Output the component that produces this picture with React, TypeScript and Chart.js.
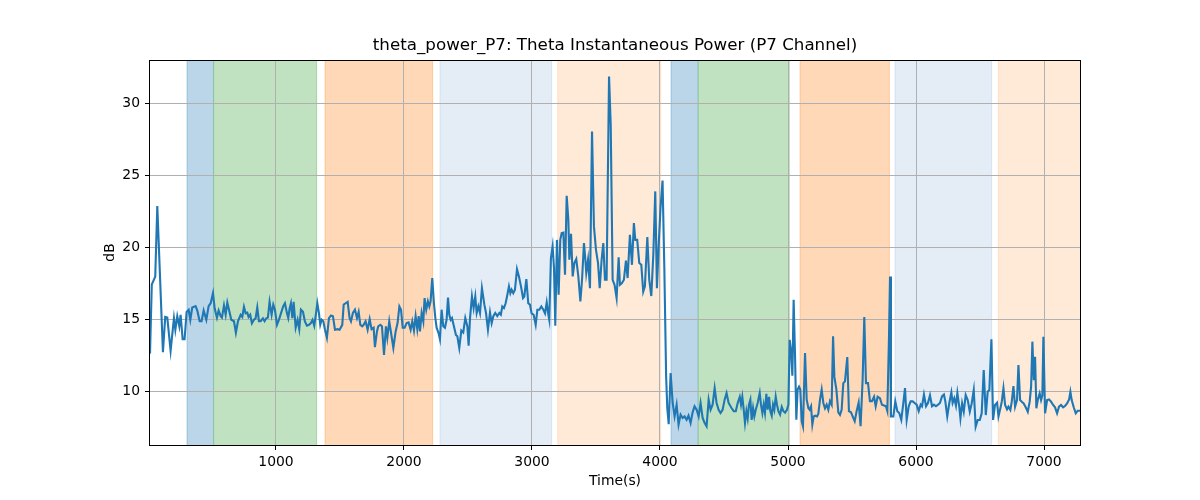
import React, { useEffect, useRef } from "react";
import { Chart, registerables } from "chart.js";

Chart.register(...registerables);

const TITLE = "theta_power_P7: Theta Instantaneous Power (P7 Channel)";
const X_LABEL = "Time(s)";
const Y_LABEL = "dB";

const X_TICKS = [1000, 2000, 3000, 4000, 5000, 6000, 7000];
const Y_TICKS = [10, 15, 20, 25, 30];
const X_RANGE = [16, 7281];
const Y_RANGE = [6.25, 33];

// phase spans (seconds) and their kind index
const SPAN_START = [305, 513, 1383, 2281, 3201, 4086, 4299, 5094, 5836, 6643];
const SPAN_END = [513, 1318, 2224, 3154, 4005, 4299, 5010, 5792, 6591, 7300];
const SPAN_KIND = [0, 1, 2, 3, 4, 0, 1, 2, 3, 4];

const TIME_S = [
  16, 30, 57, 73, 117, 135, 151, 177, 203, 214,
  229, 245, 255, 271, 286, 302, 318, 331, 346, 372,
  385, 404, 419, 435, 456, 474, 490, 508, 521, 539,
  552, 568, 578, 594, 607, 620, 633, 651, 672, 687,
  703, 724, 737, 750, 763, 776, 786, 799, 812, 828,
  841, 854, 867, 880, 898, 911, 924, 937, 950, 966,
  979, 992, 1008, 1023, 1039, 1057, 1070, 1086, 1096, 1107,
  1117, 1128, 1138, 1154, 1169, 1182, 1195, 1211, 1226, 1242,
  1258, 1273, 1286, 1299, 1310, 1323, 1336, 1346, 1357, 1370,
  1383, 1398, 1414, 1430, 1445, 1461, 1482, 1497, 1518, 1529,
  1544, 1560, 1575, 1586, 1601, 1617, 1633, 1646, 1659, 1674,
  1685, 1700, 1716, 1732, 1747, 1763, 1773, 1789, 1799, 1815,
  1828, 1844, 1859, 1870, 1885, 1898, 1917, 1935, 1950, 1964,
  1977, 1990, 2005, 2021, 2036, 2052, 2065, 2078, 2091, 2104,
  2115, 2125, 2138, 2151, 2161, 2174, 2187, 2198, 2208, 2221,
  2234, 2245, 2255, 2271, 2281, 2294, 2307, 2320, 2333, 2344,
  2354, 2365, 2375, 2390, 2406, 2417, 2432, 2448, 2463, 2479,
  2495, 2505, 2516, 2531, 2544, 2557, 2568, 2581, 2594, 2609,
  2628, 2641, 2656, 2672, 2685, 2698, 2713, 2729, 2745, 2757,
  2768, 2781, 2794, 2805, 2820, 2831, 2841, 2854, 2867, 2883,
  2898, 2914, 2930, 2940, 2956, 2971, 2984, 2997, 3013, 3029,
  3042, 3057, 3073, 3089, 3102, 3115, 3128, 3135, 3148, 3161,
  3172, 3182, 3195, 3208, 3221, 3232, 3245, 3258, 3271, 3284,
  3292, 3305, 3318, 3331, 3346, 3362, 3378, 3391, 3406, 3417,
  3424, 3438, 3453, 3469, 3484, 3500, 3516, 3529, 3544, 3557,
  3570, 3583, 3602, 3615, 3630, 3645, 3661, 3677, 3687, 3703,
  3718, 3734, 3747, 3765, 3781, 3796, 3807, 3822, 3838, 3854,
  3869, 3882, 3901, 3916, 3932, 3948, 3963, 3976, 3989, 4004,
  4020, 4034, 4048, 4057, 4068, 4083, 4099, 4114, 4130, 4145,
  4161, 4177, 4192, 4208, 4223, 4239, 4255, 4270, 4286, 4302,
  4317, 4333, 4349, 4364, 4380, 4395, 4411, 4427, 4442, 4458,
  4473, 4489, 4505, 4520, 4536, 4560, 4576, 4592, 4607, 4623,
  4633, 4643, 4654, 4664, 4675, 4685, 4695, 4706, 4716, 4727,
  4737, 4748, 4763, 4779, 4789, 4800, 4810, 4820, 4831, 4841,
  4852, 4862, 4873, 4883, 4893, 4904, 4914, 4925, 4938, 4951,
  4964, 4977, 4992, 5003, 5013, 5024, 5034, 5044, 5055, 5065,
  5075, 5086, 5096, 5107, 5117, 5133, 5146, 5159, 5169, 5180,
  5190, 5201, 5211, 5227, 5237, 5250, 5263, 5276, 5289, 5302,
  5315, 5328, 5341, 5352, 5362, 5378, 5393, 5406, 5419, 5432,
  5445, 5463, 5476, 5492, 5505, 5521, 5536, 5552, 5567, 5583,
  5596, 5609, 5625, 5640, 5656, 5672, 5685, 5700, 5718, 5734,
  5750, 5765, 5776, 5789, 5797, 5804, 5823, 5838, 5854, 5869,
  5885, 5901, 5914, 5927, 5943, 5958, 5974, 5989, 6005, 6021,
  6036, 6047, 6062, 6078, 6093, 6109, 6125, 6140, 6156, 6172,
  6187, 6203, 6218, 6229, 6244, 6260, 6276, 6286, 6299, 6312,
  6323, 6338, 6347, 6360, 6373, 6388, 6404, 6420, 6435, 6451,
  6466, 6482, 6498, 6513, 6529, 6545, 6560, 6573, 6589, 6602,
  6617, 6633, 6644, 6659, 6670, 6683, 6696, 6711, 6722, 6737,
  6748, 6761, 6774, 6789, 6800, 6813, 6826, 6841, 6857, 6873,
  6888, 6899, 6909, 6920, 6930, 6940, 6951, 6966, 6977, 6987,
  6995, 7008, 7024, 7039, 7055, 7071, 7086, 7102, 7117, 7133,
  7149, 7164, 7180, 7196, 7206, 7216, 7232, 7248, 7263, 7281,
];

const THETA_DB = [
  12.6, 17.4, 17.95, 22.85, 12.7, 15.15, 15.1, 12.8, 15.06, 14.25,
  15.2, 14.5, 15.3, 13.6, 13.6, 15.5, 15.65, 14.95, 15.8, 15.9,
  15.6, 14.85, 14.85, 15.6, 14.95, 15.9, 16.1, 16.8, 15.75, 15.1,
  15.6, 15.2, 15.1, 15.95, 15.3, 16.15, 15.65, 14.95, 14.85, 14.05,
  14.85, 15.3, 15.15, 15.85, 15.4, 15.45, 15.15, 15.3, 14.7, 14.95,
  15.05, 15.8, 14.85, 14.85, 15.05, 14.85, 15.05, 15.1, 16.2, 15.3,
  16.0, 15.65, 14.6, 14.95, 15.4, 15.9, 16.1, 15.4, 15.07, 15.76,
  16.1, 15.07, 16.2, 14.4, 14.95, 14.3, 15.65, 15.5, 14.84, 14.54,
  14.6, 14.72, 14.95, 14.54, 15.2, 16.1, 15.4, 14.6, 14.95, 14.84,
  14.26, 13.7, 15.07, 15.25, 15.2, 14.26, 14.3, 14.26, 14.6, 16.0,
  16.1, 16.2, 15.07, 14.84, 15.42, 15.65, 15.07, 15.5, 14.6, 14.5,
  14.6, 14.84, 14.26, 15.0, 14.3, 14.4, 13.05, 14.14, 14.5, 14.6,
  14.5, 12.5, 14.5, 13.7, 14.84, 14.1, 12.99, 14.14, 14.72, 15.88,
  15.65, 14.4, 14.4, 14.72, 14.77, 14.26, 14.84, 14.2, 15.2, 14.3,
  15.2, 14.14, 15.42, 14.84, 16.46, 15.65, 16.23, 15.88, 16.23, 17.85,
  16.1, 15.07, 14.4, 14.0, 13.6, 15.65, 14.5, 14.4, 14.95, 16.5,
  15.3, 14.95, 15.07, 14.5, 13.9, 13.8, 12.99, 14.2, 14.07, 15.07,
  14.5, 13.15, 15.07, 16.57, 15.76, 16.57, 15.42, 15.88, 15.42, 17.15,
  16.0, 15.42, 14.26, 15.46, 14.72, 15.2, 15.42, 15.2, 15.42, 15.3,
  15.88, 15.76, 16.1, 16.57, 17.27, 16.8, 17.04, 16.8, 17.04, 18.47,
  17.96, 17.27, 16.46, 16.57, 17.78, 16.1, 16.0, 15.4, 15.3, 14.6,
  15.65, 15.65, 15.88, 15.65, 15.4, 16.16, 15.3, 14.95, 19.24, 20.05,
  18.54, 14.54, 20.5, 16.69, 20.5, 20.97, 21.0, 18.08, 23.56, 21.9,
  19.12, 20.93, 17.96, 18.89, 19.17, 17.96, 16.23, 17.73, 20.28, 19.12,
  18.2, 19.12, 17.15, 28.03, 21.44, 19.81, 18.89, 17.15, 19.12, 20.28,
  17.73, 17.73, 31.85, 28.5, 17.73, 17.38, 16.46, 19.3, 17.38, 17.5,
  17.73, 19.07, 17.85, 20.86, 18.77, 21.67, 20.5, 20.5, 18.9, 18.77,
  16.9, 17.27, 20.7, 17.73, 16.6, 19.5, 23.87, 17.15, 20.0, 22.7,
  24.63, 18.5, 11.0, 8.8, 7.7, 11.25, 9.17, 8.24, 9.05, 7.66,
  8.36, 8.13, 8.24, 8.0, 8.29, 7.78, 8.52, 8.94, 8.7, 8.24,
  9.17, 8.13, 7.78, 7.55, 9.4, 8.7, 9.05, 10.2, 9.17, 8.7,
  8.47, 8.7, 9.4, 9.86, 9.17, 8.8, 8.6, 8.6, 9.17, 9.6,
  9.05, 9.6, 8.7, 7.78, 8.6, 8.1, 9.05, 9.4, 8.0, 8.82,
  8.24, 8.7, 9.17, 9.86, 9.05, 8.47, 9.05, 8.47, 9.8, 8.7,
  9.6, 8.6, 8.29, 9.05, 8.7, 9.6, 9.05, 8.6, 8.36, 8.9,
  8.6, 8.5, 8.7, 9.05, 13.56, 12.75, 11.06, 16.34, 12.4, 8.0,
  10.1, 10.3, 10.1, 7.9, 7.55, 12.64, 9.4, 8.82, 8.7, 8.94,
  7.66, 8.24, 8.29, 8.24, 8.43, 9.4, 10.1, 9.17, 8.8, 9.05,
  8.7, 9.3, 9.05, 13.8, 11.0, 10.1, 8.52, 8.35, 8.7, 10.55,
  10.67, 12.36, 8.6, 8.52, 8.24, 7.9, 8.59, 9.2, 7.55, 10.8,
  15.14, 10.55, 10.55, 9.3, 9.3, 9.6, 8.94, 9.6, 9.5, 9.05,
  9.0, 8.94, 8.6, 13.8, 17.96, 8.24, 8.24, 9.28, 8.59, 8.47,
  8.0, 9.17, 10.2, 8.0, 8.94, 9.28, 9.28, 9.17, 9.05, 8.6,
  9.05, 8.94, 9.75, 8.94, 9.17, 9.7, 8.94, 9.05, 8.94, 9.05,
  9.17, 9.63, 9.75, 9.28, 8.24, 9.17, 9.9, 9.17, 9.5, 8.98,
  9.86, 8.9, 8.1, 9.14, 8.56, 9.72, 9.37, 8.56, 9.14, 10.07,
  7.52, 7.99, 7.99, 8.45, 11.46, 8.33, 9.95, 10.07, 13.59, 7.99,
  9.03, 9.19, 8.22, 8.8, 9.26, 10.19, 9.03, 8.73, 8.91, 8.68,
  9.26, 10.35, 8.91, 9.37, 11.81, 9.37, 9.26, 9.14, 8.87, 8.56,
  9.26, 10.3, 13.43, 10.76, 12.38, 8.8, 9.37, 9.84, 9.37, 9.72,
  13.77, 8.45, 9.37, 9.42, 9.26, 9.03, 8.87, 8.45, 8.91, 9.03,
  8.87, 8.96, 9.14, 9.42, 9.95, 9.37, 8.87, 8.45, 8.63, 8.63,
];

// styles
const SPAN_FILL = ["rgb(188,214,233)", "rgb(192,226,192)", "rgb(255,217,183)", "rgb(228,236,246)", "rgb(255,233,215)"];
const SPAN_EDGE = ["rgba(31,119,180,0.3)", "rgba(44,160,44,0.3)", "rgba(255,127,14,0.3)", "rgba(120,160,210,0.2)", "rgba(255,140,45,0.2)"];
const FONT = "DejaVu Sans";

const spanPlugin = {
  id: "phaseSpans",
  beforeDraw(chart: any) {
    const { ctx, chartArea: a, scales } = chart;
    const x = scales.x;
    ctx.save();
    ctx.beginPath();
    ctx.rect(a.left, a.top, a.right - a.left, a.bottom - a.top);
    ctx.clip();
    for (let i = 0; i < SPAN_START.length; i++) {
      const k = SPAN_KIND[i];
      const x0 = x.getPixelForValue(SPAN_START[i]);
      const x1 = x.getPixelForValue(SPAN_END[i]);
      ctx.fillStyle = SPAN_FILL[k];
      ctx.fillRect(x0, a.top, x1 - x0, a.bottom - a.top);
      ctx.strokeStyle = SPAN_EDGE[k];
      ctx.lineWidth = 1;
      ctx.beginPath();
      ctx.moveTo(x0, a.top);
      ctx.lineTo(x0, a.bottom);
      ctx.moveTo(x1, a.top);
      ctx.lineTo(x1, a.bottom);
      ctx.stroke();
    }
    ctx.restore();
  },
};

const framePlugin = {
  id: "frameAndTitle",
  afterDraw(chart: any) {
    const { ctx, chartArea: a } = chart;
    ctx.save();
    ctx.strokeStyle = "#000";
    ctx.lineWidth = 1;
    ctx.strokeRect(Math.round(a.left) - 0.5, Math.round(a.top) + 0.5, Math.round(a.right - a.left) + 1, Math.round(a.bottom - a.top));
    ctx.fillStyle = "#000";
    ctx.font = `16.7px "${FONT}"`;
    ctx.textAlign = "center";
    ctx.textBaseline = "middle";
    ctx.fillText(TITLE, (a.left + a.right) / 2, 46);
    ctx.restore();
  },
};

export default function App() {
  const ref = useRef<HTMLCanvasElement | null>(null);

  useEffect(() => {
    if (!ref.current) return;
    const points = TIME_S.map((t, i) => ({ x: t, y: THETA_DB[i] }));
    const tickFont = { family: FONT, size: 13.9 };
    const chart = new Chart(ref.current, {
      type: "line",
      data: {
        datasets: [
          {
            label: "theta_power_P7",
            data: points,
            borderColor: "#1f77b4",
            borderWidth: 2.1,
            pointRadius: 0,
            fill: false,
            tension: 0,
          },
        ],
      },
      options: {
        animation: false,
        responsive: false,
        devicePixelRatio: 1,
        layout: { padding: { left: 0, right: 120, top: 60, bottom: 0 } },
        plugins: {
          legend: { display: false },
          tooltip: { enabled: false },
          title: { display: false },
        },
        scales: {
          x: {
            type: "linear",
            min: X_RANGE[0],
            max: X_RANGE[1],
            afterFit: (s: any) => {
              s.height = 55;
            },
            afterBuildTicks: (s: any) => {
              s.ticks = X_TICKS.map((v) => ({ value: v }));
            },
            ticks: {
              color: "#000",
              font: tickFont,
              padding: 4,
              maxRotation: 0,
              autoSkip: false,
              callback: (v: any) => String(v),
            },
            grid: { color: "#b0b0b0", lineWidth: 1, tickColor: "#000", tickLength: 5, drawTicks: true },
            border: { display: false },
            title: {
              display: true,
              text: X_LABEL,
              color: "#000",
              font: { family: FONT, size: 13.9 },
              padding: { top: 0, bottom: 10.7 },
            },
          },
          y: {
            type: "linear",
            min: Y_RANGE[0],
            max: Y_RANGE[1],
            afterFit: (s: any) => {
              s.width = 120;
            },
            afterBuildTicks: (s: any) => {
              s.ticks = Y_TICKS.map((v) => ({ value: v }));
            },
            ticks: { color: "#000", font: tickFont, padding: 5, autoSkip: false },
            grid: { color: "#b0b0b0", lineWidth: 1, tickColor: "#000", tickLength: 5, drawTicks: true },
            border: { display: false },
            title: {
              display: true,
              text: Y_LABEL,
              color: "#000",
              font: { family: FONT, size: 13.9 },
              padding: { top: 71.7, bottom: 0 },
            },
          },
        },
      },
      plugins: [spanPlugin, framePlugin],
    } as any);
    return () => chart.destroy();
  }, []);

  return (
    <div style={{ position: "fixed", left: 0, top: 0, width: 1200, height: 500, background: "#fff" }}>
      <canvas
        ref={ref}
        width={1170}
        height={500}
        style={{ position: "absolute", left: 30, top: 0, width: 1170, height: 500 }}
      />
    </div>
  );
}
